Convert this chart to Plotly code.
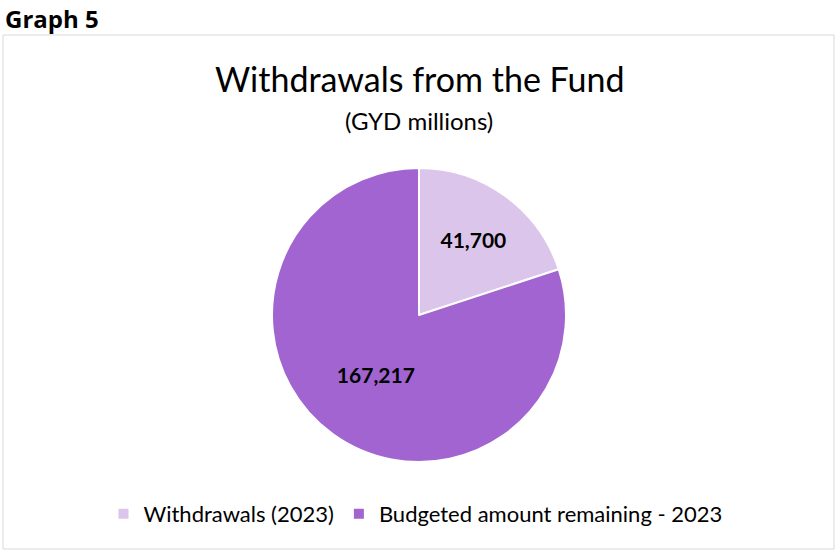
import plotly.graph_objects as go

labels = ["Withdrawals (2023)", "Budgeted amount remaining - 2023"]
values = [41700, 167217]
colors = ["#DCC5EB", "#A164D1"]

W, H = 836, 552
FONT = "Lato, 'Open Sans', sans-serif"

fig = go.Figure(go.Pie(
    labels=labels,
    values=values,
    sort=False,
    direction="clockwise",
    rotation=0,
    marker=dict(colors=colors, line=dict(color="white", width=2)),
    textinfo="value",
    texttemplate="%{value:,}",
    textposition="inside",
    insidetextorientation="horizontal",
    textfont=dict(family=FONT, size=21, color="#000000", weight="bold"),
    domain=dict(x=[272/W, 566/W], y=[90/H, 384/H]),
    hoverinfo="label+value",
))

fig.update_layout(
    width=W, height=H,
    margin=dict(l=0, r=0, t=0, b=0),
    paper_bgcolor="white",
    plot_bgcolor="white",
    showlegend=True,
    legend=dict(
        orientation="h",
        x=0.497, xanchor="center",
        y=1 - 514/H, yanchor="middle",
        font=dict(family=FONT, size=22, color="#000000"),
        itemwidth=30,
    ),
    shapes=[dict(
        type="rect", xref="paper", yref="paper",
        x0=3/W, x1=834/W, y0=1 - 549/H, y1=1 - 35/H,
        line=dict(color="#D9D9D9", width=1), fillcolor="rgba(0,0,0,0)", layer="below",
    )],
    annotations=[
        dict(text="<b>Graph 5</b>", xref="paper", yref="paper", x=3/W, y=1 - 18/H,
             xanchor="left", yanchor="middle", showarrow=False,
             font=dict(family="'Open Sans', sans-serif", size=24, color="#000000")),
        dict(text="Withdrawals from the Fund", xref="paper", yref="paper", x=419/W, y=1 - 79/H,
             xanchor="center", yanchor="middle", showarrow=False,
             font=dict(family=FONT, size=34, color="#000000")),
        dict(text="(GYD millions)", xref="paper", yref="paper", x=419/W, y=1 - 121/H,
             xanchor="center", yanchor="middle", showarrow=False,
             font=dict(family=FONT, size=24, color="#000000")),
    ],
)

fig.write_html("out.html")
